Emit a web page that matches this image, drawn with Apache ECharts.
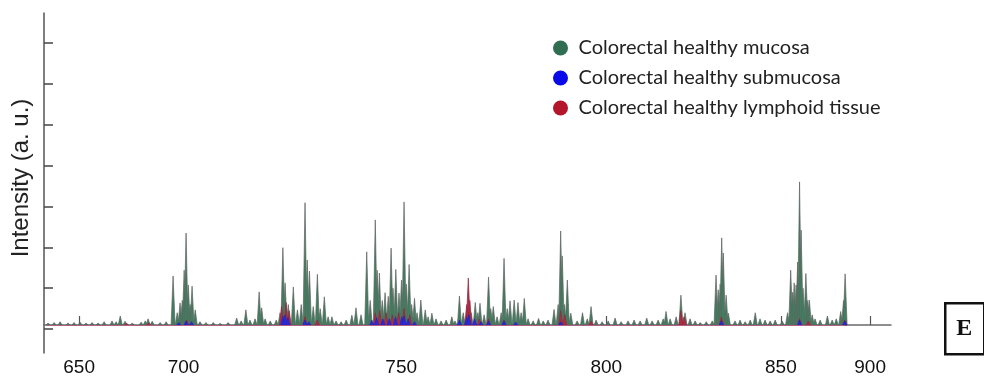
<!DOCTYPE html>
<html>
<head>
<meta charset="utf-8">
<script src="https://cdn.jsdelivr.net/npm/echarts@6/dist/echarts.min.js"></script>
<style>
  html, body { margin: 0; padding: 0; background: #fff; }
  #chart { width: 984px; height: 378px; }
</style>
</head>
<body>
<div id="chart"></div>
<script>
// m/z axis: printed tick labels and the axis value each one sits at
const tickLabels = ['650', '700', '750', '800', '850', '900'];
const tickAt = [650, 683.0, 751.8, 816.6, 871.8, 900];
const xRange = [638.9, 906.6];

// intensity axis (a. u.), unlabelled ticks
const yTicks = [-0.1, 0.9, 1.9, 2.9, 3.9, 4.9, 5.9, 6.9];
const yRange = [-0.685, 7.63];

const seriesNames = [
  'Colorectal healthy mucosa',
  'Colorectal healthy submucosa',
  'Colorectal healthy lymphoid tissue'
];

// [m/z, intensity] peak sticks
const mucosa = [
  [640.2,0.05],[642.1,0.06],[644.0,0.08],[646.5,0.05],[648.4,0.06],[650.3,0.07],[652.2,0.05],
  [654.1,0.06],[656.0,0.05],[657.9,0.08],[660.4,0.10],[661.7,0.08],[663.0,0.22],[664.5,0.09],
  [666.8,0.05],[669.6,0.07],[670.9,0.10],[671.8,0.15],[673.1,0.09],[675.6,0.06],[677.5,0.08],
  [679.7,1.20],[681.0,0.30],[681.9,0.54],[682.6,0.60],[683.2,1.34],[683.8,2.25],[684.5,0.98],
  [685.1,0.50],[685.7,0.95],[686.7,0.37],[688.2,0.08],[690.1,0.06],[692.4,0.06],[694.6,0.04],
  [697.1,0.06],[699.8,0.17],[701.2,0.10],[702.7,0.37],[704.0,0.12],[705.6,0.15],[706.9,0.81],
  [707.7,0.42],[708.8,0.15],[710.4,0.10],[712.3,0.12],[713.5,0.30],[714.4,1.89],[715.1,1.03],
  [716.1,0.50],[717.7,0.93],[719.0,0.37],[720.2,0.50],[721.4,2.99],[722.1,1.59],[722.8,1.32],
  [724.0,0.45],[725.3,1.24],[726.2,0.40],[727.5,0.69],[728.7,0.20],[729.9,0.20],[731.2,0.10],
  [732.8,0.08],[734.4,0.12],[736.2,0.24],[737.5,0.42],[739.1,0.25],[740.9,1.79],[742.0,0.60],
  [743.6,2.57],[744.2,1.34],[744.9,1.27],[745.8,0.60],[746.7,0.79],[747.7,0.70],[748.6,1.88],
  [749.2,0.90],[750.1,1.36],[751.1,0.78],[751.9,1.10],[752.7,3.01],[753.4,1.00],[754.3,1.48],
  [755.1,0.50],[756.0,0.65],[756.8,0.30],[758.0,0.61],[759.4,0.37],[760.3,0.20],[761.5,0.29],
  [762.8,0.15],[764.4,0.10],[766.0,0.12],[767.8,0.20],[768.8,0.10],[770.2,0.71],[771.4,0.30],
  [773.0,0.45],[773.9,0.30],[775.2,0.55],[776.0,0.30],[776.7,0.53],[778.0,0.25],[779.4,1.17],
  [780.1,0.40],[780.9,0.45],[782.1,0.20],[783.4,0.30],[784.3,1.63],[785.3,0.40],[786.2,0.59],
  [787.5,0.61],[788.7,0.55],[789.7,0.30],[790.7,0.65],[791.9,0.15],[793.5,0.10],[795.2,0.16],
  [796.7,0.10],[798.2,0.12],[800.1,0.38],[801.4,0.50],[802.2,2.30],[802.7,1.69],[803.4,0.50],
  [804.3,1.10],[805.4,0.29],[807.4,0.10],[809.1,0.30],[810.6,0.15],[811.8,0.45],[813.4,0.12],
  [815.3,0.08],[817.2,0.10],[819.4,0.17],[821.3,0.08],[823.5,0.10],[825.4,0.12],[827.3,0.10],
  [829.4,0.17],[831.1,0.10],[833.0,0.12],[834.6,0.15],[835.5,0.33],[836.8,0.15],[838.7,0.20],
  [840.2,0.73],[841.5,0.30],[843.1,0.15],[844.7,0.10],[846.3,0.06],[848.2,0.08],[850.1,0.10],
  [851.3,1.22],[852.0,0.86],[852.6,1.00],[853.1,2.13],[853.6,1.76],[854.5,0.73],[855.2,0.29],
  [857.3,0.10],[858.9,0.12],[860.5,0.08],[862.1,0.12],[863.7,0.30],[865.2,0.15],[866.8,0.12],
  [868.4,0.10],[870.0,0.12],[872.2,0.10],[873.9,0.30],[874.9,1.34],[875.5,0.80],[876.0,1.03],
  [876.6,0.98],[877.1,1.54],[877.7,3.50],[878.2,2.32],[878.8,0.90],[879.7,1.26],[880.3,0.60],
  [880.8,0.61],[881.7,0.25],[882.6,0.15],[884.2,0.12],[886.5,0.22],[888.0,0.12],[889.3,0.15],
  [890.7,0.33],[891.6,0.60],[892.1,1.25]
];

const submucosa = [
  [681.5,0.06],[683.8,0.10],[685.5,0.08],[714.4,0.22],[715.1,0.25],[716.0,0.18],[721.4,0.12],
  [722.6,0.08],[742.5,0.12],[744.0,0.18],[746.0,0.15],[748.0,0.15],[750.0,0.20],[752.0,0.20],
  [752.7,0.22],[754.0,0.15],[756.0,0.08],[770.2,0.12],[772.5,0.20],[773.2,0.25],[775.0,0.15],
  [777.0,0.08],[779.4,0.10],[784.3,0.10],[788.0,0.07],[802.2,0.08],[853.0,0.10],[877.7,0.12],
  [892.0,0.10]
];

const lymphoid = [
  [665.0,0.04],[672.0,0.05],[684.0,0.12],[714.0,0.45],[715.4,0.55],[716.4,0.35],[721.4,0.20],
  [725.3,0.12],[743.6,0.30],[745.0,0.35],[747.0,0.30],[749.0,0.25],[751.0,0.30],[752.7,0.40],
  [754.5,0.25],[772.5,0.50],[773.0,1.15],[773.5,0.60],[776.5,0.15],[779.4,0.15],[784.3,0.12],
  [802.2,0.35],[803.5,0.25],[811.8,0.10],[840.2,0.35],[841.2,0.20],[853.0,0.20],[877.7,0.15],
  [880.5,0.10],[892.0,0.12]
];

const palette = {
  mucosa:    { fill: '#3f7f5f', stroke: '#5e6360', legend: '#2f6e51' },
  submucosa: { fill: '#2a2ae0', stroke: '#2323b8', legend: '#0a0ae8' },
  lymphoid:  { fill: '#b32a45', stroke: '#8c2a3c', legend: '#b3162b' }
};

// each stick is drawn as a narrow peak through the axis scales
function stickRenderer(fill, stroke) {
  return function (params, api) {
    const mz = api.value(0);
    const top = api.coord([mz, api.value(1)]);
    const base = api.coord([mz, 0]);
    const hw = 2.0;
    return {
      type: 'polygon',
      shape: { points: [[base[0] - hw, base[1]], [top[0], top[1]], [base[0] + hw, base[1]]] },
      style: { fill: fill, stroke: stroke, lineWidth: 0.7 }
    };
  };
}

function stickSeries(name, data, colors, extra) {
  return Object.assign({
    name: name,
    type: 'custom',
    data: data,
    encode: { x: 0, y: 1 },
    itemStyle: { color: colors.legend },
    renderItem: stickRenderer(colors.fill, colors.stroke),
    animation: false
  }, extra || {});
}

const specStart = mucosa[0][0];
const specEnd = mucosa[mucosa.length - 1][0];

const chart = echarts.init(document.getElementById('chart'), null, { renderer: 'canvas' });

chart.setOption({
  backgroundColor: '#ffffff',
  animation: false,
  grid: { left: 44, right: 93, top: 13, bottom: 25, containLabel: false },
  legend: {
    orient: 'vertical',
    left: 548,
    top: 33,
    icon: 'circle',
    itemWidth: 22,
    itemHeight: 15,
    itemGap: 10,
    selectedMode: false,
    textStyle: { fontFamily: 'Lato', fontSize: 20, color: '#222', padding: [0, 0, 0, 2] },
    data: [
      { name: seriesNames[0], itemStyle: { color: palette.mucosa.legend } },
      { name: seriesNames[1], itemStyle: { color: palette.submucosa.legend } },
      { name: seriesNames[2], itemStyle: { color: palette.lymphoid.legend } }
    ]
  },
  xAxis: {
    type: 'value',
    min: xRange[0],
    max: xRange[1],
    splitLine: { show: false },
    axisLine: { show: true, lineStyle: { color: '#6a6a6a', width: 1.5 } },
    axisTick: { show: true, inside: true, length: 9, customValues: tickAt, lineStyle: { color: '#555', width: 1.2 } },
    axisLabel: {
      show: true,
      customValues: tickAt,
      margin: 5,
      fontFamily: 'Liberation Sans',
      fontSize: 19,
      color: '#111',
      formatter: function (v) {
        const i = tickAt.indexOf(v);
        return i >= 0 ? tickLabels[i] : '';
      }
    }
  },
  yAxis: {
    type: 'value',
    min: yRange[0],
    max: yRange[1],
    name: 'Intensity (a. u.)',
    nameLocation: 'middle',
    nameRotate: 90,
    nameGap: 11,
    nameTextStyle: { fontFamily: 'Liberation Sans', fontSize: 24, color: '#222', padding: [0, 0, 0, 10] },
    splitLine: { show: false },
    axisLine: { show: true, lineStyle: { color: '#555', width: 1.5 } },
    axisTick: { show: true, inside: true, length: 9, customValues: yTicks, lineStyle: { color: '#444', width: 1.5 } },
    axisLabel: { show: false }
  },
  series: [
    stickSeries(seriesNames[0], mucosa, palette.mucosa, {
      markLine: {
        silent: true,
        symbol: 'none',
        label: { show: false },
        lineStyle: { color: '#b06080', width: 1, type: 'solid' },
        data: [[{ coord: [specStart, 0] }, { coord: [specEnd, 0] }]]
      }
    }),
    stickSeries(seriesNames[2], lymphoid, palette.lymphoid),
    stickSeries(seriesNames[1], submucosa, palette.submucosa)
  ],
  graphic: [
    {
      type: 'group',
      left: 944,
      top: 302,
      children: [
        { type: 'rect', shape: { x: 0, y: 0, width: 39, height: 51 }, style: { fill: '#fff', stroke: '#111', lineWidth: 2.5 } },
        { type: 'text', x: 19, y: 26, style: { text: 'E', font: 'bold 24px "Liberation Serif"', fill: '#111', align: 'center', verticalAlign: 'middle' } }
      ]
    }
  ]
});
</script>
</body>
</html>
